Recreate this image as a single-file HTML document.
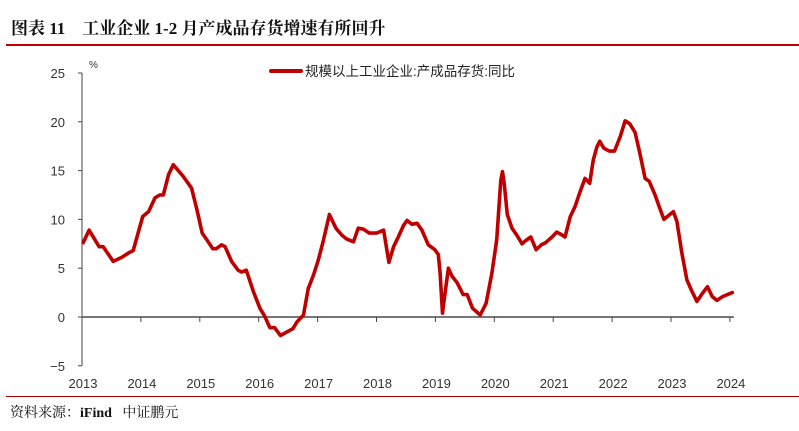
<!DOCTYPE html>
<html><head><meta charset="utf-8"><style>
body{margin:0;background:#fff;width:799px;height:431px;overflow:hidden;position:relative}
.t{position:absolute;font-family:"Liberation Serif","Noto Serif CJK SC",serif}
</style></head><body>
<div class="t" style="left:11px;top:14px;font-size:17px;font-weight:bold;color:#111;white-space:pre">图表 11    工业企业 1-2 月产成品存货增速有所回升</div>
<div style="position:absolute;left:6px;top:44px;width:793px;height:2px;background:#c00000"></div>
<svg id="chart" width="799" height="431" style="position:absolute;left:0;top:0" font-family="Liberation Sans, Noto Sans CJK SC, sans-serif"></svg>
<div style="position:absolute;left:6px;top:396px;width:793px;height:1px;background:#a00000"></div>
<div class="t" style="left:10px;top:402px;font-size:14px;color:#111;white-space:pre">资料来源：<b>iFind</b>   中证鹏元</div>
<script>
const years=[2013,2014,2015,2016,2017,2018,2019,2020,2021,2022,2023,2024];
const yTicks=[25,20,15,10,5,0,-5];
const seriesName='规模以上工业企业:产成品存货:同比';
const dates=[2013.02,2013.12,2013.29,2013.36,2013.53,2013.67,2013.80,2013.87,2014.03,2014.13,2014.24,2014.32,2014.38,2014.47,2014.55,2014.72,2014.86,2014.95,2015.04,2015.12,2015.22,2015.28,2015.37,2015.43,2015.54,2015.65,2015.71,2015.79,2015.91,2016.02,2016.10,2016.19,2016.27,2016.37,2016.49,2016.58,2016.65,2016.76,2016.84,2016.93,2017.01,2017.10,2017.20,2017.31,2017.41,2017.49,2017.61,2017.69,2017.78,2017.88,2018.00,2018.12,2018.21,2018.29,2018.37,2018.46,2018.52,2018.60,2018.69,2018.77,2018.88,2018.99,2019.05,2019.08,2019.12,2019.15,2019.22,2019.28,2019.37,2019.47,2019.54,2019.63,2019.76,2019.86,2019.96,2020.04,2020.11,2020.14,2020.17,2020.22,2020.30,2020.38,2020.47,2020.55,2020.62,2020.71,2020.80,2020.87,2020.98,2021.06,2021.15,2021.20,2021.29,2021.37,2021.46,2021.54,2021.62,2021.68,2021.74,2021.79,2021.86,2021.95,2022.04,2022.14,2022.22,2022.30,2022.39,2022.47,2022.56,2022.63,2022.73,2022.80,2022.88,2022.96,2023.04,2023.10,2023.18,2023.27,2023.35,2023.44,2023.53,2023.62,2023.70,2023.78,2023.88,2024.04];
const values=[7.6,8.9,7.2,7.2,5.7,6.1,6.6,6.8,10.3,10.8,12.2,12.5,12.5,14.6,15.6,14.4,13.2,11.0,8.6,7.9,7.0,7.0,7.4,7.2,5.7,4.8,4.6,4.8,2.6,0.9,0.1,-1.1,-1.1,-1.9,-1.5,-1.2,-0.5,0.2,2.9,4.3,5.8,7.9,10.5,9.1,8.4,8.0,7.7,9.1,9.0,8.6,8.6,8.9,5.6,7.2,8.2,9.4,9.9,9.5,9.6,8.9,7.4,6.9,6.4,4.5,0.4,1.8,5.0,4.2,3.5,2.3,2.3,0.9,0.2,1.4,4.5,7.9,14.0,14.9,13.6,10.5,9.1,8.4,7.5,7.9,8.2,6.9,7.4,7.6,8.2,8.7,8.4,8.2,10.3,11.3,12.9,14.2,13.7,16.1,17.4,18.0,17.3,17.0,17.0,18.5,20.1,19.8,18.9,16.8,14.2,13.9,12.5,11.3,10.0,10.4,10.8,9.8,6.7,3.8,2.7,1.6,2.4,3.1,2.1,1.7,2.1,2.5];
const NS='http://www.w3.org/2000/svg';
const svg=document.getElementById('chart');
const x0=82,pxYear=58.9,y0=317,pxUnit=9.76;
const X=d=>x0+(d-2013)*pxYear;
const Y=v=>y0-v*pxUnit;
function mk(t,a){const e=document.createElementNS(NS,t);for(const k in a)e.setAttribute(k,a[k]);svg.appendChild(e);return e;}
let e=mk('line',{x1:x0,y1:Y(25),x2:x0,y2:Y(-5),stroke:'#444','stroke-width':1});


yTicks.forEach(v=>{
  let t=mk('line',{x1:x0-4,y1:Y(v),x2:x0,y2:Y(v),stroke:'#444'});
  
  
  let l=mk('text',{x:x0-17,y:Y(v)+5,'text-anchor':'end','font-size':13,fill:'#333'});
  l.textContent=v<0?'−'+(-v):v;
  
  
});
let u=mk('text',{x:89,y:68,'font-size':10,fill:'#333'});u.textContent='%';


e=mk('line',{x1:x0,y1:y0,x2:X(2024)+4,y2:y0,stroke:'#777','stroke-width':2});


years.forEach(yr=>{
  let t=mk('line',{x1:X(yr),y1:y0,x2:X(yr),y2:y0+5,stroke:'#444'});
  
  
  let l=mk('text',{x:X(yr)+1,y:388,'text-anchor':'middle','font-size':13,fill:'#333'});
  l.textContent=yr;
  
  
});
const pts=dates.map((d,i)=>X(d).toFixed(1)+','+Y(values[i]).toFixed(1)).join(' ');
let p=mk('polyline',{points:pts,fill:'none',stroke:'#c00000','stroke-width':3.6,'stroke-linejoin':'round','stroke-linecap':'round'});


let lg=mk('line',{x1:271,y1:71,x2:301,y2:71,stroke:'#c00000','stroke-width':4,'stroke-linecap':'round'});


let lt=mk('text',{x:305,y:76,'font-size':13.5,fill:'#222'});lt.textContent=seriesName;


</script>
</body></html>
